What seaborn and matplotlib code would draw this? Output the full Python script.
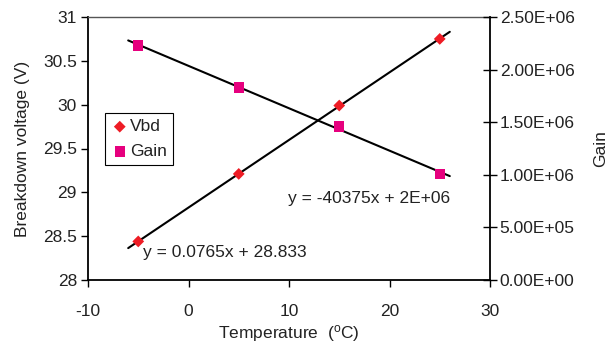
import numpy as np
import pandas as pd
import matplotlib
matplotlib.use("Agg")
import matplotlib.pyplot as plt
import seaborn as sns
from matplotlib.ticker import FuncFormatter, MultipleLocator

temperature = [-5, 5, 15, 25]
vbd = [28.44, 29.21, 29.99, 30.75]
gain = [2.23e6, 1.83e6, 1.46e6, 1.01e6]
vbd_eq = "y = 0.0765x + 28.833"
gain_eq = "y = -40375x + 2E+06"

sns.set_theme(style="white")
plt.rcParams['font.family'] = ['Liberation Sans', 'DejaVu Sans']
plt.rcParams['axes.unicode_minus'] = False
FS = 12.5
plt.rcParams['font.size'] = FS

fig = plt.figure(figsize=(6.09, 3.43), dpi=100)
ax = fig.add_axes([88/609, 1-280/343, (490-88)/609, (280-17)/343])
ax2 = ax.twinx()

df = pd.DataFrame({"T": temperature, "Vbd": vbd, "Gain": gain})

red = "#EE1C25"
mag = "#E6007E"
tc = "#222222"

# trendlines (Excel style, forecast 1 unit each way)
xfit = np.array([min(temperature) - 1, max(temperature) + 1])
p1 = np.polyfit(temperature, vbd, 1)
p2 = np.polyfit(temperature, gain, 1)
sns.lineplot(x=xfit, y=np.polyval(p1, xfit), ax=ax, color="black", lw=1.5, zorder=2)
sns.lineplot(x=xfit, y=np.polyval(p2, xfit), ax=ax2, color="black", lw=1.5, zorder=2)

sns.scatterplot(data=df, x="T", y="Vbd", ax=ax, marker="D", s=36, color=red,
                edgecolor="none", zorder=3, label="Vbd", legend=False)
sns.scatterplot(data=df, x="T", y="Gain", ax=ax2, marker="s", s=55, color=mag,
                edgecolor="none", zorder=3, label="Gain", legend=False)

ax.set_xlim(-10, 30)
ax.set_ylim(28, 31)
ax2.set_ylim(0, 2.5e6)
ax.xaxis.set_major_locator(MultipleLocator(10))
ax.yaxis.set_major_locator(MultipleLocator(0.5))
ax2.yaxis.set_major_locator(MultipleLocator(5e5))
ax.xaxis.set_major_formatter(FuncFormatter(lambda v, p: f"{v:g}"))
ax.yaxis.set_major_formatter(FuncFormatter(lambda v, p: f"{v:g}"))
ax2.yaxis.set_major_formatter(FuncFormatter(lambda v, p: f"{v:.2E}"))

for a in (ax, ax2):
    for s in a.spines.values():
        s.set_visible(False)
ax.spines['left'].set_visible(True)
ax.spines['left'].set_color("black")
ax.spines['left'].set_linewidth(1.3)
ax.spines['bottom'].set_visible(True)
ax.spines['bottom'].set_color("black")
ax.spines['bottom'].set_linewidth(1.3)
ax.spines['top'].set_visible(True)
ax.spines['top'].set_color("#555555")
ax.spines['top'].set_linewidth(1.0)
ax2.spines['right'].set_visible(True)
ax2.spines['right'].set_color("black")
ax2.spines['right'].set_linewidth(1.3)

ax.tick_params(axis='both', which='major', direction='out', length=5, width=1,
               color="black", labelsize=FS, labelcolor=tc, pad=3,
               left=True, bottom=True)
ax.tick_params(axis='x', pad=12)
ax2.tick_params(axis='y', direction='inout', length=10, width=1, color="black",
                labelsize=FS, labelcolor=tc, pad=2, right=True)

ax.set_xlabel("Temperature  ($\\mathregular{^{o}}$C)", fontsize=FS, color=tc, labelpad=3)
ax.set_ylabel("Breakdown voltage (V)", fontsize=FS, color=tc, labelpad=9)
ax2.set_ylabel("Gain", fontsize=FS, color=tc, labelpad=13)

ax.text(143/609, 1-252/343, vbd_eq, transform=fig.transFigure, ha="left", va="center",
        fontsize=FS, color=tc)
ax.text(288/609, 1-199/343, gain_eq, transform=fig.transFigure, ha="left", va="center",
        fontsize=FS, color=tc)

h1, l1 = ax.get_legend_handles_labels()
h2, l2 = ax2.get_legend_handles_labels()
hs = [h for h, l in zip(h1 + h2, l1 + l2) if l in ("Vbd", "Gain")]
ls = [l for l in l1 + l2 if l in ("Vbd", "Gain")]
leg = ax2.legend(hs, ls, loc="upper left", bbox_to_anchor=(105/609, 1-113/343),
                 bbox_transform=fig.transFigure, frameon=True, fancybox=False,
                 edgecolor="black", framealpha=1, fontsize=FS, handletextpad=0.1,
                 borderpad=0.35, labelspacing=0.55, handlelength=1.0, borderaxespad=0)
leg.get_frame().set_linewidth(0.8)
for t in leg.get_texts():
    t.set_color(tc)

fig.savefig("out.png", dpi=100)
